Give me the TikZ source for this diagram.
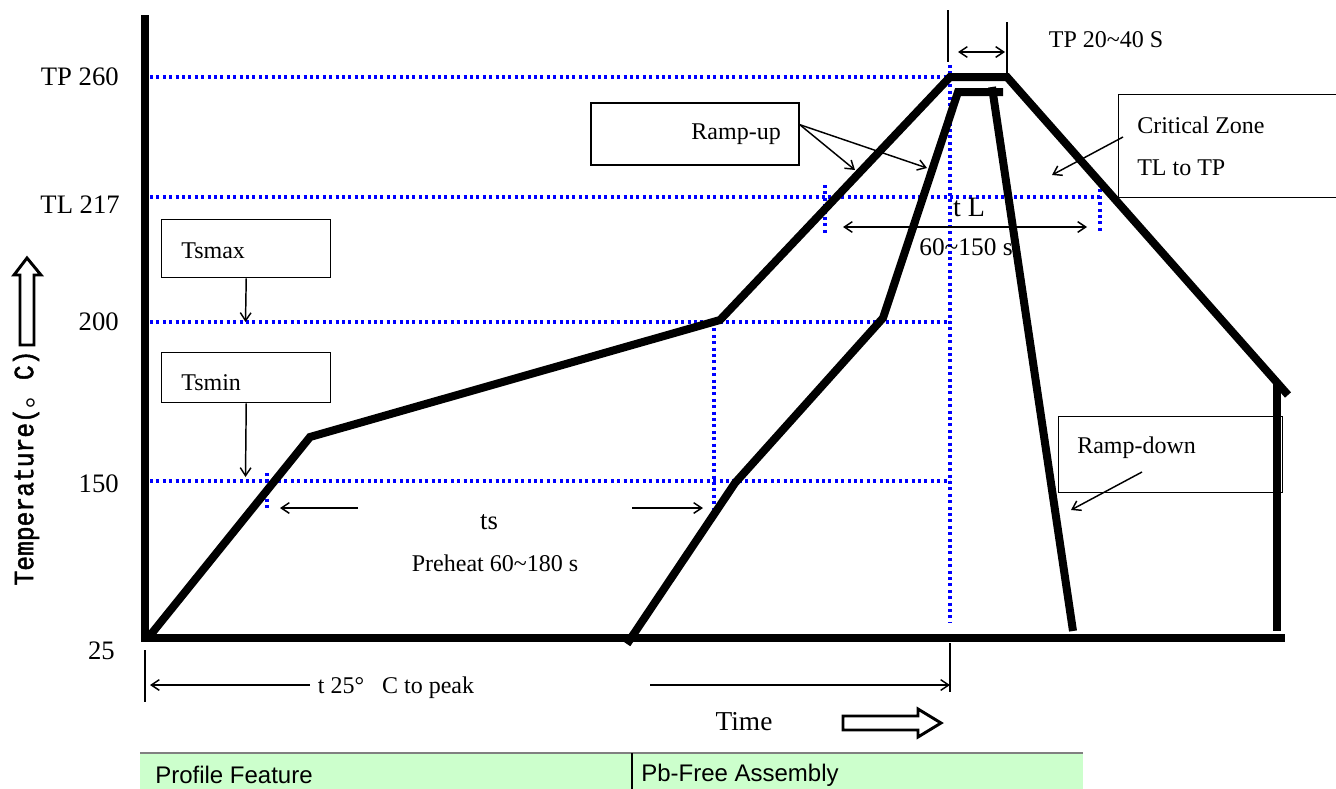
\documentclass[tikz,border=0pt]{standalone}
\usepackage{fontspec}
\setmainfont{Liberation Serif}
\newfontfamily\sansf{Liberation Sans}
\newfontfamily\monob{Liberation Mono}[FakeBold=1.6,FakeStretch=0.88]
\newfontfamily\cjk{Noto Sans CJK SC}
\usetikzlibrary{arrows.meta}
\definecolor{tablegreen}{RGB}{204,255,204}
\begin{document}
\begin{tikzpicture}[x=0.75pt,y=-0.75pt,
  prof/.style={line width=6pt,line join=miter},
  axisline/.style={line width=6pt},
  bdot/.style={blue,line width=2.3pt,dash pattern=on 2.3pt off 2.5pt},
  thinl/.style={line width=1.1pt},
  tip/.tip={Straight Barb[length=6pt,width=8pt]},
  arr/.style={thinl,-tip},
  darr/.style={thinl,tip-tip},
  box/.style={draw,line width=1.1pt,inner sep=0pt},
  lbl/.style={font=\fontsize{18}{21}\selectfont,inner sep=0pt},
  axlbl/.style={lbl,font=\fontsize{20}{23}\selectfont,anchor=east},
  hollow/.style={draw,line width=2.2pt,line join=miter,fill=white}]
\useasboundingbox (0,0) rectangle (1336,789);
\clip (0,0) rectangle (1336,789);

% key points
\coordinate (A0) at (148,638);
\coordinate (A1) at (310,437);
\coordinate (A2) at (720,320);
\coordinate (A3) at (950,77);
\coordinate (A4) at (1007,77);
\coordinate (A5) at (1288,395);
\coordinate (B0) at (1277,383);
\coordinate (B1) at (1277,631);
\coordinate (C0) at (627,644);
\coordinate (C1) at (735,483);
\coordinate (C2) at (883,318);
\coordinate (C3) at (958,92);
\coordinate (C4) at (1003,92);
\coordinate (D0) at (992,87);
\coordinate (D1) at (1073,631);

% blue dotted guides
\draw[bdot] (150,77) -- (950,77);
\draw[bdot] (150,197) -- (1100,197);
\draw[bdot] (150,322) -- (950,322);
\draw[bdot] (150,481) -- (950,481);
\draw[bdot] (950,65) -- (950,622);
\draw[bdot] (825,185) -- (825,235);
\draw[bdot] (1100,183) -- (1100,233);
\draw[bdot] (267,473) -- (267,511);
\draw[bdot] (714,322) -- (714,511);

% axes
\draw[axisline] (145,15) -- (145,642);
\draw[axisline] (141,638) -- (1285,638);

% profiles
\draw[prof] (A0) -- (A1) -- (A2) -- (A3) -- (A4) -- (A5);
\draw[prof] (B0) -- (B1);
\draw[prof] (C0) -- (C1) -- (C2) -- (C3) -- (C4);
\draw[prof] (D0) -- (D1);

% thin markers
\coordinate (tp1a) at (948,10);
\coordinate (tp1b) at (948,62);
\coordinate (tp2a) at (1007,22);
\coordinate (tp2b) at (1007,75);
\draw[line width=1.6pt] (tp1a) -- (tp1b);
\draw[line width=1.6pt] (tp2a) -- (tp2b);
\coordinate (tpl) at (958,52);
\coordinate (tpr) at (1005,52);
\draw[darr] (tpl) -- (tpr);
\coordinate (bl0) at (145,650);
\coordinate (bl1) at (145,702);
\coordinate (br0) at (950,643);
\coordinate (br1) at (950,692);
\draw[line width=1.6pt] (bl0) -- (bl1);
\draw[line width=1.6pt] (br0) -- (br1);

% axis labels
\node[axlbl] (l260) at (119,77) {TP 260};
\node[axlbl] (l217) at (120,205) {TL 217};
\node[axlbl] (l200) at (119,322) {200};
\node[axlbl] (l150) at (119,484) {150};
\node[axlbl] (l25) at (115,651) {25};

% temperature label and arrow
\node[rotate=90,inner sep=0pt,font=\monob\fontsize{21}{24}\selectfont] (ylab) at (26,468) {Temperature({\cjk 。}C)};
\draw[hollow] (20,345) -- (20,275) -- (14,275) -- (27,258) -- (41,275) -- (34,275) -- (34,345) -- cycle;

% time label and arrow
\node[lbl,font=\fontsize{20.5}{24}\selectfont] (time) at (744,722) {Time};
\draw[hollow] (843,716) -- (918,716) -- (918,709) -- (941,723) -- (918,737) -- (918,730) -- (843,730) -- cycle;

% t25 to peak
\node[lbl] (t25) at (396,688) {t 25°\hspace{0.75em}C to peak};
\coordinate (t25a) at (310,685);
\coordinate (t25b) at (150,685);
\coordinate (t25c) at (650,685);
\coordinate (t25d) at (950,685);
\draw[arr] (t25a) -- (t25b);
\draw[arr] (t25c) -- (t25d);

% ts
\node[lbl,font=\fontsize{20}{24}\selectfont] (ts) at (489,522) {ts};
\node[lbl] (pre) at (495,563) {Preheat 60\char`~180 s};
\coordinate (tsa) at (358,508);
\coordinate (tsb) at (280,508);
\coordinate (tsc) at (632,508);
\coordinate (tsd) at (703,508);
\draw[arr] (tsa) -- (tsb);
\draw[arr] (tsc) -- (tsd);

% tL
\node[lbl,font=\fontsize{21}{24}\selectfont] (tL) at (969,207) {t L};
\node[lbl,font=\fontsize{19}{22}\selectfont] (tLr) at (966,247) {60\char`~150 s};
\coordinate (tLa) at (843,227);
\coordinate (tLb) at (1087,227);
\draw[darr] (tLa) -- (tLb);

% TP 20~40 S
\node[lbl] (tpw) at (1106,40) {TP 20\char`~40 S};

% boxes
\node[box,minimum width=208*0.75pt,minimum height=62*0.75pt] (ru) at (695,134) {};
\node[lbl,anchor=east] (rut) at ([xshift=-14pt]ru.east) {Ramp-up};
\coordinate (ru1) at (855,170);
\coordinate (ru2) at (927,168);
\draw[arr] ([yshift=7pt]ru.east) -- (ru1);
\draw[arr] ([yshift=7pt]ru.east) -- (ru2);

\node[box,minimum width=227*0.75pt,minimum height=103*0.75pt,anchor=north west] (cz) at (1118,94) {};
\node[lbl,anchor=west] (czt1) at (1137,125) {Critical Zone};
\node[lbl,anchor=west] (czt2) at (1137,168) {TL to TP};
\coordinate (cz0) at (1123,137);
\coordinate (cz1) at (1052,175);
\draw[arr] (cz0) -- (cz1);

\node[box,minimum width=169*0.75pt,minimum height=58*0.75pt,anchor=north west] (tsmax) at (161,219) {};
\node[lbl,anchor=west] (tsmaxt) at (181,251) {Tsmax};
\coordinate (tsmax1) at (245.5,322);
\draw[arr] (tsmax.south) -- (tsmax1);

\node[box,minimum width=169*0.75pt,minimum height=50*0.75pt,anchor=north west] (tsmin) at (161,352) {};
\node[lbl,anchor=west] (tsmint) at (181,383) {Tsmin};
\coordinate (tsmin1) at (245.5,477);
\draw[arr] (tsmin.south) -- (tsmin1);

\node[box,minimum width=224*0.75pt,minimum height=76*0.75pt,anchor=north west] (rd) at (1058,416) {};
\node[lbl,anchor=west] (rdt) at (1077,448) {Ramp-down};
\coordinate (rd0) at (1142,472);
\coordinate (rd1) at (1071,510);
\draw[arr] (rd0) -- (rd1);

% table
\fill[tablegreen] (140,753) rectangle (1083,789);
\draw[gray,line width=0.8pt] (140,753) -- (1083,753);
\draw[line width=0.8pt] (632,753) -- (632,789);
\node[lbl,font=\sansf\fontsize{18}{21}\selectfont,anchor=west] (pf) at (155,775) {Profile Feature};
\node[lbl,font=\sansf\fontsize{18}{21}\selectfont,anchor=west] (pb) at (641,775) {Pb-Free Assembly};
\end{tikzpicture}
\end{document}
